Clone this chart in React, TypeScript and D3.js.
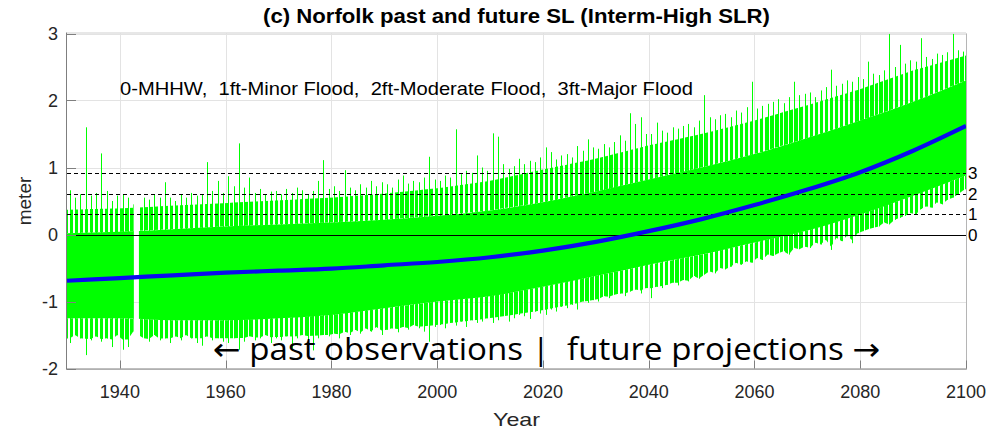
import React from "react";
import * as d3 from "d3";

// ---- data -------------------------------------------------------------
const X_TICKS = [1940, 1960, 1980, 2000, 2020, 2040, 2060, 2080, 2100];
const Y_TICKS = [-2, -1, 0, 1, 2, 3];

// Flood thresholds (metres) above MHHW: 0, 1 ft, 2 ft, 3 ft
const FLOOD_LEVELS = [0, 0.3048, 0.6096, 0.9144];
const FLOOD_LABELS = ["0", "1", "2", "3"];

// Missing tide-gauge record
const GAP = [1942.6, 1943.6];

// Mean sea level (Interm-High projection), by year
const MEAN_YEARS = [1930, 1940, 1950, 1960, 1970, 1980, 1990, 2000, 2010, 2020, 2030, 2040, 2050, 2060, 2070, 2080, 2090, 2100];
const MEAN_SL = [-0.69, -0.65, -0.61, -0.57, -0.54, -0.51, -0.46, -0.41, -0.34, -0.24, -0.11, 0.05, 0.23, 0.44, 0.67, 0.93, 1.25, 1.62];

// Envelope of the hourly water level (solid core and dense fringe)
const ENV_YEARS = MEAN_YEARS;
const HI_CORE = [0.02, 0.04, 0.08, 0.12, 0.15, 0.18, 0.22, 0.28, 0.36, 0.48, 0.64, 0.82, 1.0, 1.2, 1.44, 1.7, 1.98, 2.3];
const HI_FRINGE = [0.32, 0.34, 0.38, 0.42, 0.46, 0.5, 0.56, 0.64, 0.75, 0.92, 1.08, 1.28, 1.45, 1.65, 1.88, 2.12, 2.4, 2.62];
const LO_CORE = [-1.25, -1.25, -1.28, -1.28, -1.25, -1.2, -1.1, -1.0, -0.92, -0.78, -0.62, -0.45, -0.3, -0.12, 0.06, 0.3, 0.58, 0.88];
const LO_FRINGE = [-1.5, -1.52, -1.5, -1.5, -1.48, -1.45, -1.38, -1.3, -1.2, -1.08, -0.92, -0.76, -0.6, -0.42, -0.24, 0.0, 0.3, 0.62];

// Yearly extremes, 1930 … 2100 (null = no record)
const PEAK_START = 1930;
const HI_PEAK = [
  0.66, 0.55, 0.60, 1.60, 0.58, 0.62, 1.21, 0.65, 0.50, 0.58, // 1930
  0.60, 0.55, 0.45, null, 0.55, 0.52, 0.60, 0.55, 0.78, 0.55, // 1940
  0.50, 0.60, 0.55, 0.62, 0.58, 0.60, 1.08, 0.65, 0.80, 0.62, // 1950
  0.87, 0.72, 1.36, 0.70, 0.85, 0.62, 0.68, 0.60, 0.64, 0.65, // 1960
  0.60, 0.68, 0.62, 0.70, 0.66, 0.60, 0.65, 0.80, 1.11, 0.68, // 1970
  0.72, 0.65, 0.96, 0.70, 0.66, 0.75, 0.70, 0.80, 0.72, 0.78, // 1980
  0.75, 0.70, 0.82, 0.88, 0.76, 0.80, 0.78, 0.85, 1.16, 0.82, // 1990
  0.80, 0.88, 0.85, 1.57, 0.90, 0.95, 0.92, 1.18, 1.00, 0.95, // 2000
  1.51, 1.46, 1.05, 0.98, 1.02, 1.13, 1.05, 1.10, 1.08, 1.15, // 2010
  1.30, 1.23, 1.12, 1.18, 1.20, 1.15, 1.32, 1.25, 1.42, 1.30, // 2020
  1.28, 1.35, 1.30, 1.38, 1.48, 1.40, 1.81, 1.65, 1.75, 1.50, // 2030
  1.50, 1.67, 1.55, 1.52, 1.60, 1.58, 1.62, 1.65, 1.60, 1.70, // 2040
  2.08, 1.75, 1.72, 1.78, 1.80, 1.75, 1.85, 1.82, 1.90, 2.28, // 2050
  1.88, 1.92, 1.95, 1.98, 2.02, 1.96, 2.05, 2.28, 2.08, 2.10, // 2060
  2.12, 2.05, 2.15, 2.20, 2.46, 2.22, 2.25, 2.30, 2.28, 2.35, // 2070
  2.32, 2.58, 2.40, 2.38, 2.45, 3.00, 2.50, 2.83, 2.55, 2.60, // 2080
  2.58, 2.93, 2.65, 2.62, 2.70, 2.68, 2.72, 3.00, 2.75, 2.73, // 2090
  2.70, // 2100
];
const LO_PEAK = [
  -1.62, -1.50, -1.55, -1.80, -1.58, -1.52, -1.60, -1.55, -1.68, -1.50, // 1930
  -1.72, -1.68, -1.45, null, -1.55, -1.60, -1.50, -1.58, -1.55, -1.62, // 1940
  -1.52, -1.58, -1.50, -1.55, -1.62, -1.66, -1.52, -1.58, -1.55, -1.60, // 1950
  -1.62, -1.55, -1.72, -1.60, -1.52, -1.58, -1.55, -1.50, -1.62, -1.55, // 1960
  -1.58, -1.52, -1.70, -1.55, -1.50, -1.58, -1.73, -1.55, -1.50, -1.52, // 1970
  -1.48, -1.55, -1.45, -1.50, -1.42, -1.48, -1.40, -1.45, -1.38, -1.50, // 1980
  -1.42, -1.40, -1.46, -1.38, -1.42, -1.35, -1.40, -1.45, -1.60, -1.38, // 1990
  -1.35, -1.40, -1.32, -1.36, -1.30, -1.38, -1.28, -1.32, -1.30, -1.25, // 2000
  -1.32, -1.28, -1.22, -1.30, -1.25, -1.20, -1.22, -1.26, -1.15, -1.18, // 2010
  -1.20, -1.12, -1.15, -1.08, -1.10, -1.05, -1.12, -1.00, -1.02, -0.98, // 2020
  -1.00, -0.92, -0.95, -0.90, -0.88, -0.92, -0.85, -0.82, -0.88, -0.80, // 2030
  -0.95, -0.78, -0.80, -0.75, -0.72, -0.76, -0.68, -0.70, -0.62, -0.66, // 2040
  -0.60, -0.55, -0.58, -0.50, -0.52, -0.48, -0.42, -0.45, -0.40, -0.42, // 2050
  -0.35, -0.38, -0.30, -0.32, -0.28, -0.25, -0.30, -0.20, -0.22, -0.18, // 2060
  -0.20, -0.12, -0.15, -0.08, -0.23, -0.05, -0.10, -0.02, -0.13, 0.02, // 2070
  0.05, 0.08, 0.10, 0.12, 0.18, 0.15, 0.22, 0.25, 0.28, 0.32, // 2080
  0.30, 0.38, 0.42, 0.40, 0.48, 0.45, 0.52, 0.55, 0.60, 0.66, // 2090
  0.70, // 2100
];

const TITLE = "(c) Norfolk past and future SL (Interm-High SLR)";
const NOTE = "0-MHHW,  1ft-Minor Flood,  2ft-Moderate Flood,  3ft-Major Flood";
const BANNER = "\u2190 past observations |  future projections \u2192";

// ---- layout -----------------------------------------------------------
const W = 990;
const H = 431;
const L = 67;
const R = 966;
const T = 33.5;
const B = 368.5;

const GREEN = "#00ff00";
const AXIS = "#262626";
const FONT = "'Liberation Sans', Arial, Helvetica, sans-serif";

export default function App() {
  const x = d3.scaleLinear().domain([1930, 2100]).range([L, R]);
  const y = d3.scaleLinear().domain([-2, 3]).range([B, T]);

  // piecewise envelopes, used to keep the fringe outline within its band
  const hiFr = d3.scaleLinear().domain(ENV_YEARS).range(HI_FRINGE);
  const loFr = d3.scaleLinear().domain(ENV_YEARS).range(LO_FRINGE);
  const hiCo = d3.scaleLinear().domain(ENV_YEARS).range(HI_CORE);
  const loCo = d3.scaleLinear().domain(ENV_YEARS).range(LO_CORE);

  const env = ENV_YEARS.map((yr, i) => ({ yr, hc: HI_CORE[i], lc: LO_CORE[i] }));
  const corePath =
    d3
      .area<any>()
      .x((d) => x(d.yr))
      .y0((d) => y(d.lc))
      .y1((d) => y(d.hc))
      .curve(d3.curveMonotoneX)(env) || "";

  const peaks = HI_PEAK.map((hi, i) => ({
    yr: PEAK_START + i + 0.5,
    hi,
    lo: LO_PEAK[i],
  })).filter((d) => d.hi !== null && d.lo !== null) as { yr: number; hi: number; lo: number }[];

  // ragged fringe: follows the yearly extremes, held close to the dense band
  const fringe = peaks.map((d) => ({
    yr: d.yr,
    top: Math.max(hiCo(d.yr), Math.min(d.hi, hiFr(d.yr) + 0.05)),
    core: hiCo(d.yr),
    bot: Math.min(loCo(d.yr), Math.max(d.lo, loFr(d.yr) - 0.05)),
    coreLo: loCo(d.yr),
  }));
  const padded = [{ ...fringe[0], yr: 1930 }, ...fringe, { ...fringe[fringe.length - 1], yr: 2100 }];
  const upperFringe =
    d3
      .area<any>()
      .x((d) => x(d.yr))
      .y0((d) => y(d.core))
      .y1((d) => y(d.top))(padded) || "";
  const lowerFringe =
    d3
      .area<any>()
      .x((d) => x(d.yr))
      .y0((d) => y(d.bot))
      .y1((d) => y(d.coreLo))(padded) || "";

  const meanPath =
    d3
      .line<number>()
      .x((_, i) => x(MEAN_YEARS[i]))
      .y((v) => y(v))
      .curve(d3.curveMonotoneX)(MEAN_SL) || "";

  const px = (v: number) => Math.round(v) + 0.5;

  return (
    <svg width={W} height={H} style={{ display: "block", position: "absolute", left: 0, top: 0 }}>
      <defs>
        <clipPath id="plotArea">
          <rect x={L} y={T} width={R - L} height={B - T} />
        </clipPath>
        <clipPath id="record">
          <rect x={L} y={T} width={x(GAP[0]) - L} height={B - T} />
          <rect x={x(GAP[1])} y={T} width={R - x(GAP[1])} height={B - T} />
        </clipPath>
        <pattern id="hourly" width={5} height={4} patternUnits="userSpaceOnUse">
          <rect x={0} y={0} width={3} height={4} fill={GREEN} />
        </pattern>
      </defs>

      <rect x={0} y={0} width={W} height={H} fill="#fff" />

      {/* grid */}
      <g stroke="#e3e3e3" strokeWidth={1}>
        {X_TICKS.map((t) => (
          <line key={"gx" + t} x1={px(x(t))} x2={px(x(t))} y1={T} y2={B} />
        ))}
        {Y_TICKS.map((t) => (
          <line key={"gy" + t} x1={L} x2={R} y1={px(y(t))} y2={px(y(t))} />
        ))}
      </g>

      {/* hourly water level */}
      <g clipPath="url(#plotArea)">
        <g clipPath="url(#record)">
          <path d={upperFringe} fill="url(#hourly)" />
          <path d={lowerFringe} fill="url(#hourly)" />
          <path d={corePath} fill={GREEN} />
          {peaks.map((d) => (
            <line
              key={"s" + d.yr}
              x1={px(x(d.yr))}
              x2={px(x(d.yr))}
              y1={y(d.lo)}
              y2={y(d.hi)}
              stroke={GREEN}
              strokeWidth={1}
            />
          ))}
        </g>
      </g>

      {/* flood thresholds */}
      <g>
        {FLOOD_LEVELS.map((v, i) => (
          <g key={"f" + i}>
            <line
              x1={L}
              x2={R}
              y1={px(y(v))}
              y2={px(y(v))}
              stroke="#000"
              strokeWidth={1}
              strokeDasharray={i === 0 ? undefined : "4 3"}
            />
            <text x={R + 2} y={y(v)} dy="0.36em" fontFamily={FONT} fontSize={17} fill="#000">
              {FLOOD_LABELS[i]}
            </text>
          </g>
        ))}
      </g>

      {/* mean sea level */}
      <path d={meanPath} fill="none" stroke="#0a0af0" strokeWidth={4.2} clipPath="url(#plotArea)" />

      {/* axes box */}
      <g fill="none" strokeWidth={1}>
        <line x1={L} x2={R} y1={T - 0.5} y2={T - 0.5} stroke="#cfcfcf" />
        <line x1={R + 0.5} x2={R + 0.5} y1={T} y2={B} stroke="#b5b5b5" />
        <line x1={L - 0.5} x2={L - 0.5} y1={T - 1} y2={B + 1} stroke="#7f7f7f" />
        <line x1={L - 1} x2={R + 1} y1={B + 0.5} y2={B + 0.5} stroke="#7f7f7f" />
      </g>
      <g stroke="#7f7f7f" strokeWidth={1}>
        {X_TICKS.map((t) => (
          <line key={"tx" + t} x1={px(x(t))} x2={px(x(t))} y1={B} y2={B - 8} />
        ))}
        {Y_TICKS.map((t) => (
          <line key={"ty" + t} x1={L} x2={L + 9} y1={px(y(t))} y2={px(y(t))} />
        ))}
      </g>

      {/* tick labels */}
      <g fontFamily={FONT} fontSize={18} fill={AXIS}>
        {X_TICKS.map((t) => (
          <text key={"lx" + t} x={x(t)} y={398} textAnchor="middle">
            {t}
          </text>
        ))}
        {Y_TICKS.map((t) => (
          <text key={"ly" + t} x={L - 9} y={y(t)} dy="0.35em" textAnchor="end">
            {t}
          </text>
        ))}
      </g>

      {/* titles */}
      <text
        x={263}
        y={23}
        fontFamily={FONT}
        fontSize={20}
        fontWeight="bold"
        fill="#000"
        textLength={507}
        lengthAdjust="spacingAndGlyphs"
      >
        {TITLE}
      </text>
      <text
        x={493}
        y={426}
        fontFamily={FONT}
        fontSize={19}
        fill={AXIS}
        textLength={47}
        lengthAdjust="spacingAndGlyphs"
      >
        Year
      </text>
      <text
        transform={`translate(31, ${(T + B) / 2}) rotate(-90)`}
        textAnchor="middle"
        fontFamily={FONT}
        fontSize={19}
        fill={AXIS}
      >
        meter
      </text>

      <text
        x={120}
        y={95}
        fontFamily={FONT}
        fontSize={18.5}
        fill="#000"
        textLength={573}
        lengthAdjust="spacingAndGlyphs"
        style={{ whiteSpace: "pre" }}
      >
        {NOTE}
      </text>

      <text
        x={213}
        y={360}
        fontFamily="'Open Sans', 'DejaVu Sans', sans-serif"
        fontSize={31}
        fill="#000"
        textLength={667}
        lengthAdjust="spacingAndGlyphs"
        style={{ whiteSpace: "pre" }}
      >
        {BANNER}
      </text>
    </svg>
  );
}
